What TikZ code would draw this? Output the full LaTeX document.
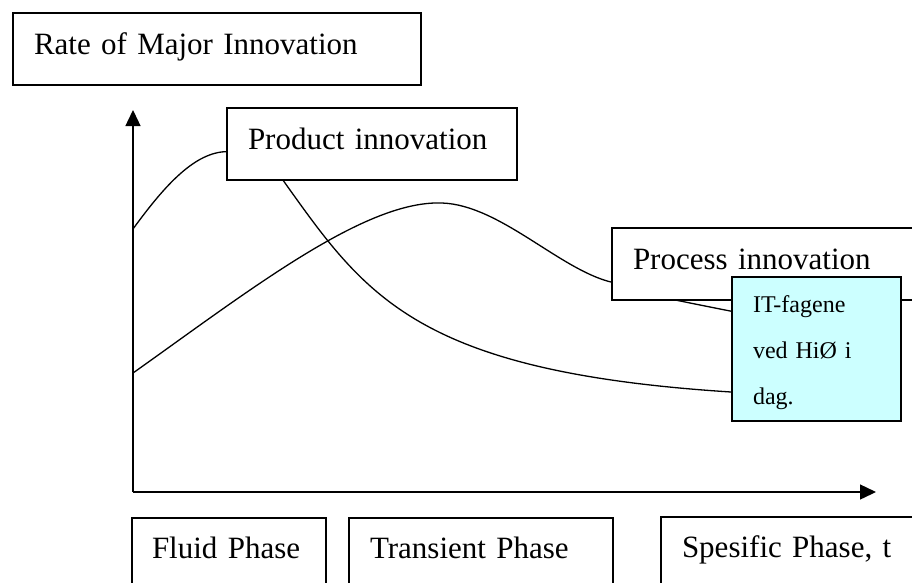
\documentclass[tikz,border=0pt]{standalone}
\usepackage{fontspec}
\setmainfont{Liberation Serif}
\usetikzlibrary{arrows.meta}
\definecolor{notecyan}{HTML}{CCFFFF}
\tikzset{
    axis/.style = {
        line width=1.4pt,
        -{Triangle[length=16pt, width=15pt]},
        },
    curve/.style = {
        line width=1.3pt,
        },
    note/.style = {
        fill = notecyan,
        },
}

\begin{document}
\begin{tikzpicture}[
            x=1pt, y=-1pt,
            WordBox/.style={draw, line width=1.3pt, anchor=north west, inner xsep=21pt, inner ysep=0pt, outer sep=0pt,
                align=left, text height=41pt, text depth=31pt, font=\fontsize{31}{37}\selectfont},
            PhaseBox/.style={WordBox, text height=40pt, text depth=32pt},
            NoteBox/.style={WordBox, note, text height=35pt, text depth=109pt, font=\fontsize{24}{46}\selectfont}
            ]
            \clip (0,0) rectangle (912,582);

            \node [WordBox, text width=366pt] (rate) at (13,13) {Rate of Major Innovation};
            \node [WordBox, text width=248pt] (prod) at (227,108) {Product innovation};
            \node [WordBox, text width=306pt] (proc) at (612,228) {Process innovation};
            \node [NoteBox, text width=127pt] (itnote) at (732,277) {IT-fagene\\ved HiØ i\\dag.};

            \node [PhaseBox, inner xsep=20pt, text width=154pt] (fluid) at (132,518) {Fluid Phase};
            \node [PhaseBox, text width=222pt] (trans) at (349,518) {Transient Phase};
            \node [PhaseBox, text width=298pt] (spec) at (661,517) {Spesific Phase, t};

            % axes
            \coordinate (o) at (133,492);
            \coordinate (ytip) at (133,110);
            \coordinate (xtip) at (876,492);
            \coordinate (prod0) at (133,229);
            \coordinate (proc0) at (133,373);
            \draw [axis] (o) -- (ytip);
            \draw [axis] (o) -- (xtip);

            % curves
            \draw [curve] (prod0) .. controls (165,185) and (195,152) .. (prod.183);
            \draw [curve] (prod.202) .. controls (365,295) and (415,372) .. (itnote.207.5);
            \draw [curve] (proc0) .. controls (250,290) and (365,200) .. (442,203)
                .. controls (500,205) and (560,270) .. (proc.186);
            \draw [curve] (proc.198) .. controls (700,305) .. (itnote.156);
\end{tikzpicture}
\end{document}
